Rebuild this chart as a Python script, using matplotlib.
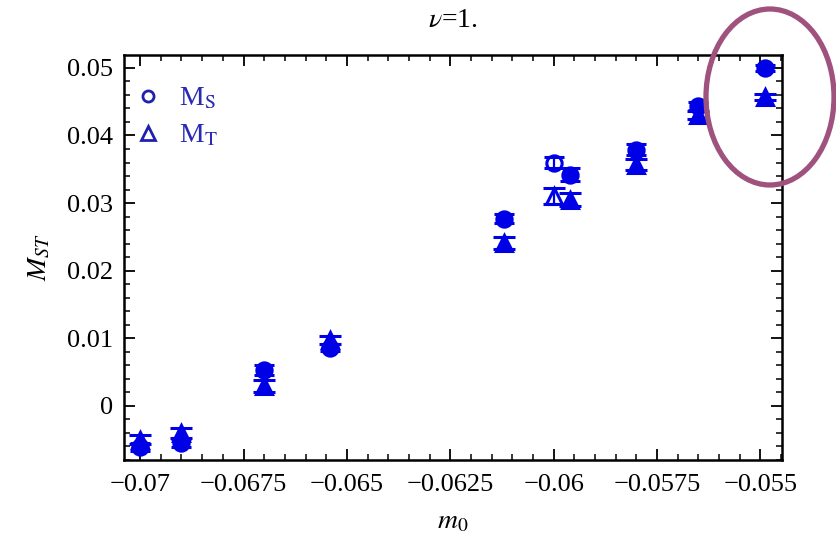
from matplotlib import pyplot as plt
from matplotlib.patches import Ellipse
from matplotlib.lines import Line2D
from matplotlib.ticker import MultipleLocator, FuncFormatter
import numpy as np

# values
m0 = [-0.0700, -0.0690, -0.0670, -0.0654, -0.0612, -0.0600, -0.0596, -0.0580, -0.0565, -0.0549]
MS = [-0.0061, -0.0055, 0.0053, 0.0086, 0.0277, 0.0360, 0.0342, 0.0379, 0.0443, 0.0500]
MS_err = [0.0006, 0.0006, 0.0008, 0.0005, 0.0007, 0.0008, 0.0010, 0.0008, 0.0006, 0.0004]
MT = [-0.0050, -0.0040, 0.0030, 0.0098, 0.0241, 0.0310, 0.0305, 0.0357, 0.0430, 0.0457]
MT_err = [0.0007, 0.0008, 0.0009, 0.0006, 0.0009, 0.0012, 0.0010, 0.0008, 0.0006, 0.0005]

blue = '#0000e6'
plt.rcParams['font.family'] = ['Liberation Serif', 'DejaVu Serif']
plt.rcParams['mathtext.fontset'] = 'stix'

fig = plt.figure(figsize=(8.36, 5.41), dpi=100)
ax = fig.add_axes([124/836, 1 - 460/541, 658/836, 405/541])

for i in range(len(m0)):
    face = 'none' if i == 5 else blue
    ax.errorbar(m0[i], MS[i], yerr=MS_err[i], fmt='o', ms=11, mfc=face, mec=blue,
                mew=2.2, ecolor=blue, elinewidth=1.6, capsize=7, capthick=1.6)
    ax.errorbar(m0[i], MT[i], yerr=MT_err[i], fmt='^', ms=12, mfc=face, mec=blue,
                mew=2.2, ecolor=blue, elinewidth=1.6, capsize=8, capthick=1.6)

ax.set_xlim(-0.07039, -0.05448)
ax.set_ylim(-0.0080, 0.0519)
ax.xaxis.set_major_locator(MultipleLocator(0.0025))
ax.xaxis.set_minor_locator(MultipleLocator(0.0005))
ax.yaxis.set_major_locator(MultipleLocator(0.01))
ax.yaxis.set_minor_locator(MultipleLocator(0.002))

def fmt(v, pos):
    s = ('%.4f' % v).rstrip('0').rstrip('.')
    if s in ('-0', '0.'):
        s = '0'
    return s.replace('-', '\u2212')

ax.xaxis.set_major_formatter(FuncFormatter(fmt))
ax.yaxis.set_major_formatter(FuncFormatter(fmt))
ax.tick_params(which='both', direction='in', top=True, right=True, labelsize=19, color='black')
ax.tick_params(which='major', length=8, width=1.3)
ax.tick_params(which='minor', length=4, width=1.1)
ax.tick_params(axis='x', which='major', pad=10)
ax.tick_params(axis='y', which='major', pad=8)
for sp in ax.spines.values():
    sp.set_linewidth(1.8)

ax.set_title(r'$\nu$=1.', fontsize=20, pad=20)
ax.set_xlabel(r'$m_0$', fontsize=20, labelpad=10)
ax.set_ylabel(r'$M_{ST}$', fontsize=20, labelpad=10)

handles = [Line2D([], [], ls='none', marker='o', ms=8, mfc='none', mec='#2020b0', mew=2),
           Line2D([], [], ls='none', marker='^', ms=10, mfc='none', mec='#2020b0', mew=2)]
leg = ax.legend(handles, [r'M$_\mathrm{S}$', r'M$_\mathrm{T}$'], loc='upper left',
                frameon=False, fontsize=20, handlelength=1.0, handletextpad=0.6,
                labelspacing=0.4, bbox_to_anchor=(-0.022, 0.985))
for t in leg.get_texts():
    t.set_color('#2a2ab5')

# highlight ring around the last points
ring = Ellipse((770/836, 1 - 97/541), 128/836, 176/541, transform=fig.transFigure,
               fill=False, ec='#a0527e', lw=3.8)
fig.add_artist(ring)

fig.savefig('out.png', dpi=100)
